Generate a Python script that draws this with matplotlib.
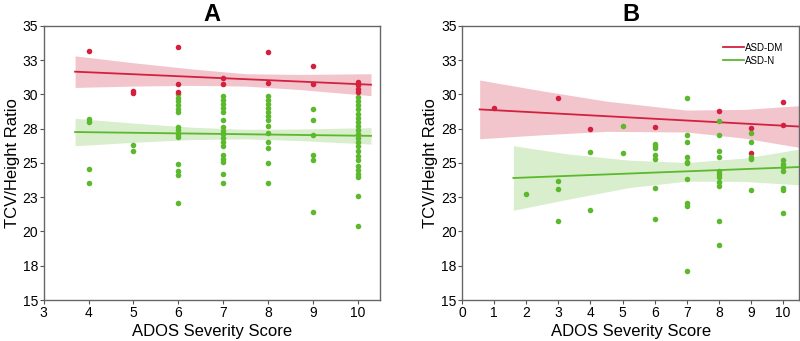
import matplotlib
matplotlib.use("Agg")
import matplotlib.pyplot as plt
import numpy as np

plt.rcParams['font.family'] = ['Liberation Sans', 'DejaVu Sans']

red = '#d3203f'
green = '#5cb82d'
red_band = '#f2c5cd'
green_band = '#d9eecd'

# ---- panel A data ----
a_red_x = [4, 5, 5, 6, 6, 6, 7, 7, 8, 8, 9, 9, 10, 10, 10, 10]
a_red_y = [33.15, 30.25, 30.1, 33.45, 30.75, 30.2, 31.2, 30.75, 33.05, 30.85,
           32.05, 30.75, 30.9, 30.65, 30.4, 30.2]

a_green_x = ([4] * 4 + [5] * 2 + [6] * 14 + [7] * 17 + [8] * 13 + [9] * 6 + [10] * 22)
a_green_y = [28.2, 28.0, 24.55, 23.5,
             26.3, 25.85,
             30.0, 29.7, 29.5, 29.2, 28.9, 28.7, 27.6, 27.4, 27.1, 26.9, 24.9, 24.4, 24.1, 22.1,
             29.9, 29.6, 29.3, 29.0, 28.7, 28.1, 27.6, 27.3, 27.1, 26.8, 26.5, 26.2, 25.6, 25.3,
             25.1, 24.2, 23.5,
             29.9, 29.6, 29.3, 29.0, 28.7, 28.4, 28.1, 27.7, 27.2, 26.5, 26.1, 25.0, 23.5,
             28.9, 28.1, 27.05, 25.55, 25.2, 21.4,
             29.8, 29.5, 29.2, 28.9, 28.6, 28.3, 28.0, 27.7, 27.4, 27.1, 26.8, 26.5, 26.2, 25.9,
             25.5, 25.2, 24.8, 24.5, 24.2, 24.0, 22.6, 20.4]

# fitted lines and confidence bands
a_fit_x = [3.7, 5.0, 6.3, 7.5, 8.7, 10.3]
a_red_fit = [31.65, 31.45, 31.25, 31.05, 30.9, 30.7]
a_red_half = [1.15, 0.85, 0.6, 0.45, 0.55, 0.8]
a_green_fit = [27.25, 27.2, 27.15, 27.1, 27.05, 26.97]
a_green_half = [1.0, 0.7, 0.45, 0.35, 0.42, 0.6]

# ---- panel B data ----
b_red_x = [1, 3, 4, 6, 8, 9, 9, 10, 10]
b_red_y = [29.0, 29.7, 27.45, 27.6, 28.8, 27.55, 25.7, 29.45, 27.75]

b_green_x = ([2] + [3] * 3 + [4] * 2 + [5] * 2 + [6] * 7 + [7] * 10 + [8] * 11 + [9] * 5 + [10] * 7)
b_green_y = [22.7,
             23.7, 23.1, 20.8,
             25.8, 21.6,
             27.7, 25.7,
             26.4, 26.25, 26.05, 25.55, 25.25, 23.2, 20.9,
             29.75, 27.05, 26.55, 25.45, 25.1, 25.0, 23.85, 22.05, 21.85, 17.1,
             28.05, 27.0, 25.85, 25.4, 24.4, 24.0, 23.6, 23.3, 20.8, 19.0, 24.2,
             27.2, 26.5, 25.45, 25.25, 23.0,
             25.2, 24.9, 24.7, 24.4, 23.15, 23.0, 21.35]

b_red_fit_x = [0.55, 2.5, 4.5, 7.0, 8.8, 10.5]
b_red_fit = [28.9, 28.65, 28.4, 28.05, 27.85, 27.65]
b_red_half = [2.14, 1.6, 1.1, 0.8, 1.05, 1.52]
b_green_fit_x = [1.6, 3.3, 5.2, 7.0, 8.8, 10.5]
b_green_fit = [23.9, 24.0, 24.2, 24.35, 24.5, 24.7]
b_green_half = [2.35, 1.65, 1.0, 0.68, 0.85, 1.3]

yticks = [15, 17.5, 20, 22.5, 25, 27.5, 30, 32.5, 35]
ytick_labels = ['15', '18', '20', '23', '25', '28', '30', '33', '35']


def draw_fit(ax, fx, fy, half, line_c, band_c):
    fx = np.array(fx)
    fy = np.array(fy)
    half = np.array(half)
    ax.fill_between(fx, fy - half, fy + half, color=band_c, lw=0, zorder=1)
    ax.plot([fx[0], fx[-1]], [fy[0], fy[-1]], color=line_c, lw=1.3, zorder=2)


def style(ax, title, xlim, xticks):
    ax.set_xlim(*xlim)
    ax.set_ylim(15, 35)
    ax.set_xticks(xticks)
    ax.set_yticks(yticks)
    ax.set_yticklabels(ytick_labels)
    ax.tick_params(direction='out', length=3, width=0.8, color='#555555',
                   labelsize=10, pad=1)
    for s in ax.spines.values():
        s.set_color('#666666')
        s.set_linewidth(1.0)
    ax.set_xlabel('ADOS Severity Score', fontsize=12, labelpad=3)
    ax.set_ylabel('TCV/Height Ratio', fontsize=12, labelpad=2)
    ax.set_title(title, fontsize=17, fontweight='bold', pad=3)


fig = plt.figure(figsize=(8, 3.41), dpi=100)
ax1 = fig.add_axes([0.0546, 0.12, 0.4204, 0.8046])
ax2 = fig.add_axes([0.5775, 0.12, 0.4215, 0.8046])

# panel A
draw_fit(ax1, a_fit_x, a_red_fit, a_red_half, red, red_band)
draw_fit(ax1, a_fit_x, a_green_fit, a_green_half, green, green_band)
ax1.scatter(a_green_x, a_green_y, s=16, color=green, lw=0, zorder=3)
ax1.scatter(a_red_x, a_red_y, s=16, color=red, lw=0, zorder=3)
style(ax1, 'A', (3, 10.5), list(range(3, 11)))

# panel B
draw_fit(ax2, b_red_fit_x, b_red_fit, b_red_half, red, red_band)
draw_fit(ax2, b_green_fit_x, b_green_fit, b_green_half, green, green_band)
ax2.scatter(b_red_x, b_red_y, s=16, color=red, lw=0, zorder=3)
ax2.scatter(b_green_x, b_green_y, s=16, color=green, lw=0, zorder=3)
style(ax2, 'B', (0, 10.5), list(range(0, 11)))

ax2.plot([], [], color=red, lw=1.3, label='ASD-DM')
ax2.plot([], [], color=green, lw=1.3, label='ASD-N')
ax2.legend(loc='upper right', frameon=False, fontsize=7, handlelength=2.2,
           handletextpad=0.1, labelspacing=0.3, bbox_to_anchor=(0.98, 0.97))

fig.savefig('out.png', dpi=100)
